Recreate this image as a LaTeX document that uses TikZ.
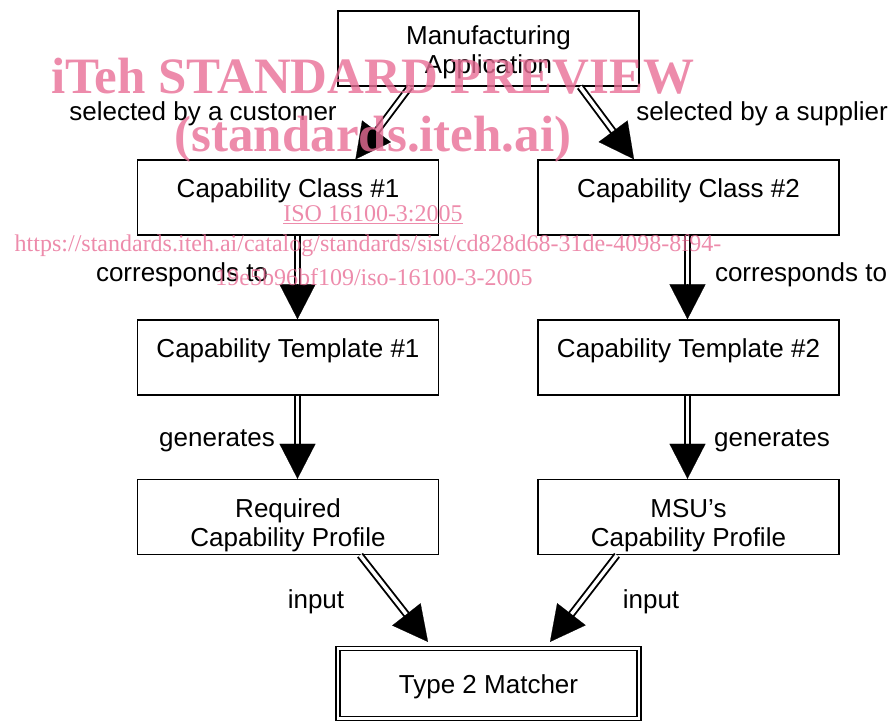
\documentclass[tikz,border=0pt]{standalone}
\usepackage{fontspec}
\setmainfont{Liberation Sans}
\newfontfamily\wmfont{Liberation Serif}
\usetikzlibrary{arrows.meta,calc}
\definecolor{wmpink}{RGB}{232,110,150}
\tikzset{
  box/.style={draw, line width=1.4pt, minimum width=301pt, minimum height=75pt, align=center, inner sep=0pt,
    font=\fontsize{26}{29}\selectfont, text height=30pt, text depth=30pt},
  lbl/.style={font=\fontsize{26}{29}\selectfont, inner sep=0pt},
  shaft/.style={draw, line width=1.9pt, double=white, double distance=3.6pt},
  head/.style={-{Triangle[width=36pt,length=35pt]}, line width=0.2pt},
  wm/.style={text=wmpink, opacity=0.8, inner sep=0pt}
}
\newcommand{\dblarrow}[2]{%
  \draw[shaft, shorten >=32pt] (#1) -- (#2);
  \draw[head] ($(#2)!35pt!(#1)$) -- (#2);
}
\newcommand{\twol}[2]{\begin{tabular}[t]{@{}c@{}}#1\\#2\end{tabular}}
\begin{document}
\begin{tikzpicture}[x=1pt,y=-1pt]
\useasboundingbox (0,0) rectangle (893,720);
\node[box, minimum height=75pt, text height=26pt, text depth=35pt] (ma) at (488.5,48.5) {\twol{Manufacturing}{Application}};
\node[box] (c1) at (288,197.5) {Capability Class \#1};
\node[box] (c2) at (688.5,197.5) {Capability Class \#2};
\node[box] (t1) at (288,357.5) {Capability Template \#1};
\node[box] (t2) at (688.5,357.5) {Capability Template \#2};
\node[box] (p1) at (288,517) {\twol{Required}{Capability Profile}};
\node[box] (p2) at (688.5,517) {\twol{MSU’s}{Capability Profile}};
\node[box, minimum height=70pt, double, double distance=2.8pt, line width=1.2pt, text height=40pt, text depth=20pt] (tm) at (488.5,683.5) {Type 2 Matcher};

\coordinate (a1s) at ($(ma.south)+(-78.5,0)$);
\coordinate (a1e) at ($(c1.north)+(67.5,0)$);
\coordinate (a2s) at ($(ma.south)+(91.5,0)$);
\coordinate (a2e) at ($(c2.north)+(-54.5,0)$);
\coordinate (a3s) at ($(c1.south)+(9.5,0)$);
\coordinate (a3e) at ($(t1.north)+(9.5,0)$);
\coordinate (a4s) at ($(c2.south)+(-1,0)$);
\coordinate (a4e) at ($(t2.north)+(-1,0)$);
\coordinate (a5s) at ($(t1.south)+(9.5,0)$);
\coordinate (a5e) at ($(p1.north)+(9.5,0)$);
\coordinate (a6s) at ($(t2.south)+(-1,0)$);
\coordinate (a6e) at ($(p2.north)+(-1,0)$);
\coordinate (a7s) at ($(p1.south)+(72,0)$);
\coordinate (a7e) at ($(tm.north)+(-60.5,-6)$);
\coordinate (a8s) at ($(p2.south)+(-71.5,0)$);
\coordinate (a8e) at ($(tm.north)+(61.5,-6)$);

\dblarrow{a1s}{a1e}
\dblarrow{a2s}{a2e}
\dblarrow{a3s}{a3e}
\dblarrow{a4s}{a4e}
\dblarrow{a5s}{a5e}
\dblarrow{a6s}{a6e}
\dblarrow{a7s}{a7e}
\dblarrow{a8s}{a8e}

\node[lbl] (l1) at (203,114) {selected by a customer};
\node[lbl] (l2) at (762,114) {selected by a supplier};
\node[lbl] (l3) at (182,275) {corresponds to};
\node[lbl] (l4) at (801,275) {corresponds to};
\node[lbl] (l5) at (217,441) {generates};
\node[lbl] (l6) at (772,441) {generates};
\node[lbl] (l7) at (316,602) {input};
\node[lbl] (l8) at (651,602) {input};

\node[wm, font=\wmfont\bfseries\fontsize{51}{51}\selectfont] (w1) at (373,76) {iTeh STANDARD PREVIEW};
\node[wm, font=\wmfont\bfseries\fontsize{51}{51}\selectfont] (w2) at (373,139) {(standards.iteh.ai)};
\node[wm, font=\wmfont\fontsize{24}{24}\selectfont] (w3) at (373,215) {\underline{ISO 16100-3:2005}};
\node[wm, font=\wmfont\fontsize{24}{24}\selectfont] (w4) at (368,246) {https://standards.iteh.ai/catalog/standards/sist/cd828d68-31de-4098-8f94-};
\node[wm, font=\wmfont\fontsize{24}{24}\selectfont] (w5) at (374,277) {19e5b96bf109/iso-16100-3-2005};
\end{tikzpicture}
\end{document}
